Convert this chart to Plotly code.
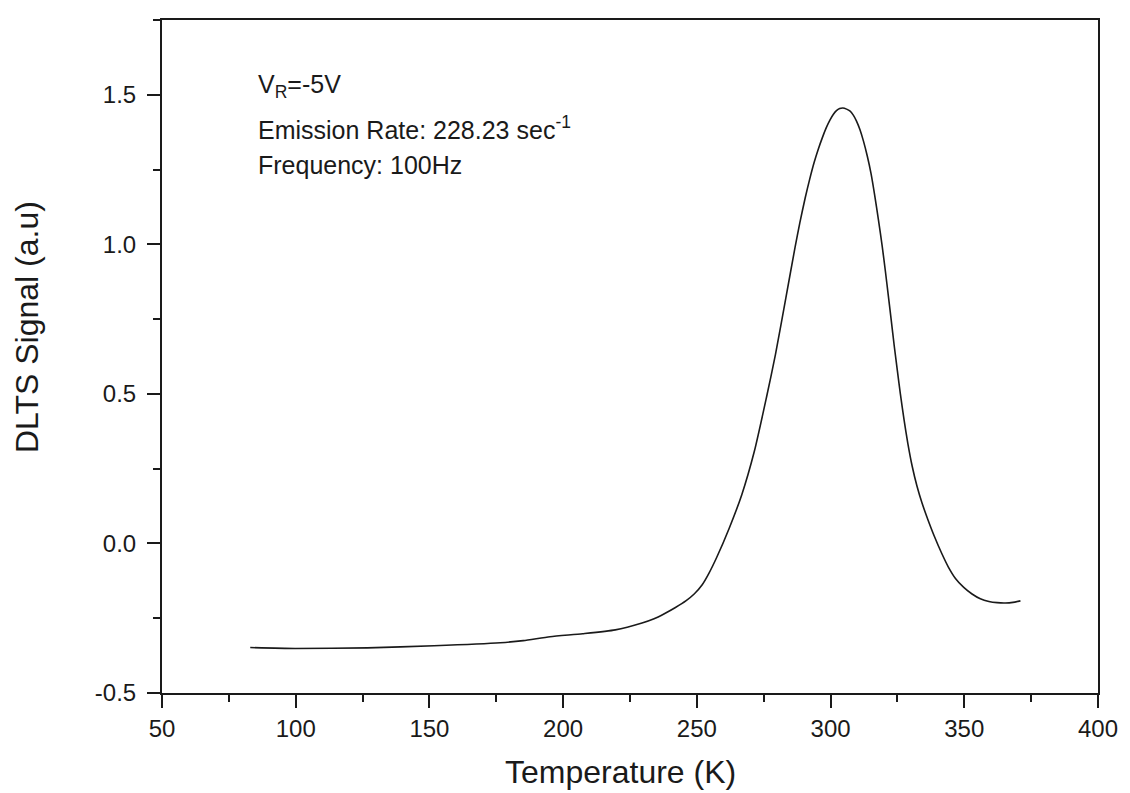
import plotly.graph_objects as go

# Temperature (K) and DLTS signal (a.u.)
temperature = [83.0, 99.8, 126.8, 151.7, 176.5, 185.1, 195.1, 207.3, 219.5, 229.5,
               234.0, 238.0, 242.0, 246.0, 249.0, 252.0, 254.5, 257.4, 262.1, 266.8,
               271.5, 276.0, 279.4, 283.3, 286.7, 288.5, 290.5, 292.2, 293.9, 295.4,
               296.9, 298.4, 299.8, 301.0, 302.2, 303.4, 304.6, 306.0, 307.2, 308.5,
               309.7, 311.0, 312.3, 313.7, 315.1, 316.5, 317.9, 319.3, 320.5, 321.6,
               322.7, 323.8, 325.0, 326.1, 327.5, 328.9, 330.5, 332.3, 334.2, 336.3,
               338.8, 341.5, 344.0, 346.7, 349.8, 352.9, 356.0, 359.2, 362.3, 365.4,
               368.2, 371.0]
signal = [-0.348, -0.351, -0.349, -0.342, -0.332, -0.325, -0.312, -0.302, -0.289, -0.266,
          -0.252, -0.234, -0.214, -0.191, -0.169, -0.138, -0.100, -0.047, 0.051, 0.163,
          0.308, 0.487, 0.632, 0.822, 0.989, 1.072, 1.155, 1.218, 1.275, 1.318,
          1.356, 1.390, 1.416, 1.434, 1.447, 1.454, 1.456, 1.452, 1.446, 1.432,
          1.412, 1.383, 1.345, 1.296, 1.238, 1.164, 1.082, 0.994, 0.910, 0.828,
          0.745, 0.661, 0.576, 0.500, 0.412, 0.334, 0.259, 0.192, 0.135, 0.082,
          0.024, -0.032, -0.078, -0.117, -0.147, -0.169, -0.185, -0.194, -0.198, -0.199,
          -0.197, -0.192]

x_ticks = [50, 100, 150, 200, 250, 300, 350, 400]
y_ticks = [-0.5, 0.0, 0.5, 1.0, 1.5]
y_tick_text = ["-0.5", "0.0", "0.5", "1.0", "1.5"]

FONT = "Liberation Sans, Arial, sans-serif"
INK = "#1a1a1a"

W, H = 1130, 793
L, R, T, B = 162, 1105.5, 19.5, 693.5

def px(xp):
    return (xp - L) / (R - L)

def py(yp):
    return (B - yp) / (B - T)

fig = go.Figure()
fig.add_trace(go.Scatter(
    x=temperature, y=signal, mode="lines",
    line=dict(color=INK, width=1.6, shape="spline", smoothing=0.6),
    showlegend=False, hoverinfo="skip"))

axis_common = dict(
    showline=True, linecolor=INK, linewidth=2, mirror=True,
    ticks="outside", tickwidth=2, tickcolor=INK, ticklen=13,
    showgrid=False, zeroline=False,
    tickfont=dict(family=FONT, size=24, color=INK),
)

fig.update_xaxes(range=[50, 400], tickvals=x_ticks,
                 minor=dict(ticks="outside", ticklen=7, tickwidth=2, tickcolor=INK, dtick=25, tick0=50),
                 **axis_common)
fig.update_yaxes(range=[-0.5, 1.75], tickvals=y_ticks, ticktext=y_tick_text,
                 minor=dict(ticks="outside", ticklen=7, tickwidth=2, tickcolor=INK, dtick=0.25, tick0=-0.5),
                 ticklabelstandoff=6,
                 **axis_common)

ann_font = dict(family=FONT, size=25, color=INK)
annotations = [
    dict(text="V<sub>R</sub>=-5V", x=px(257), y=py(86), xanchor="left", yanchor="middle"),
    dict(text="Emission Rate: 228.23 sec<sup>-1</sup>", x=px(257), y=py(128), xanchor="left", yanchor="middle"),
    dict(text="Frequency: 100Hz", x=px(257), y=py(165), xanchor="left", yanchor="middle"),
]
for a in annotations:
    fig.add_annotation(xref="paper", yref="paper", showarrow=False, font=ann_font, **a)

title_font = dict(family=FONT, size=32, color=INK)
fig.add_annotation(text="Temperature (K)", xref="paper", yref="paper",
                   x=px(624), y=py(773), xanchor="center", yanchor="middle",
                   showarrow=False, font=title_font)
fig.add_annotation(text="DLTS Signal (a.u)", xref="paper", yref="paper",
                   x=px(26), y=py(327), xanchor="center", yanchor="middle",
                   textangle=-90, showarrow=False, font=title_font)

fig.update_layout(
    width=W, height=H,
    margin=dict(l=L, r=W - R, t=T, b=H - B, pad=0),
    paper_bgcolor="white", plot_bgcolor="white",
)

fig.write_html("out.html")
